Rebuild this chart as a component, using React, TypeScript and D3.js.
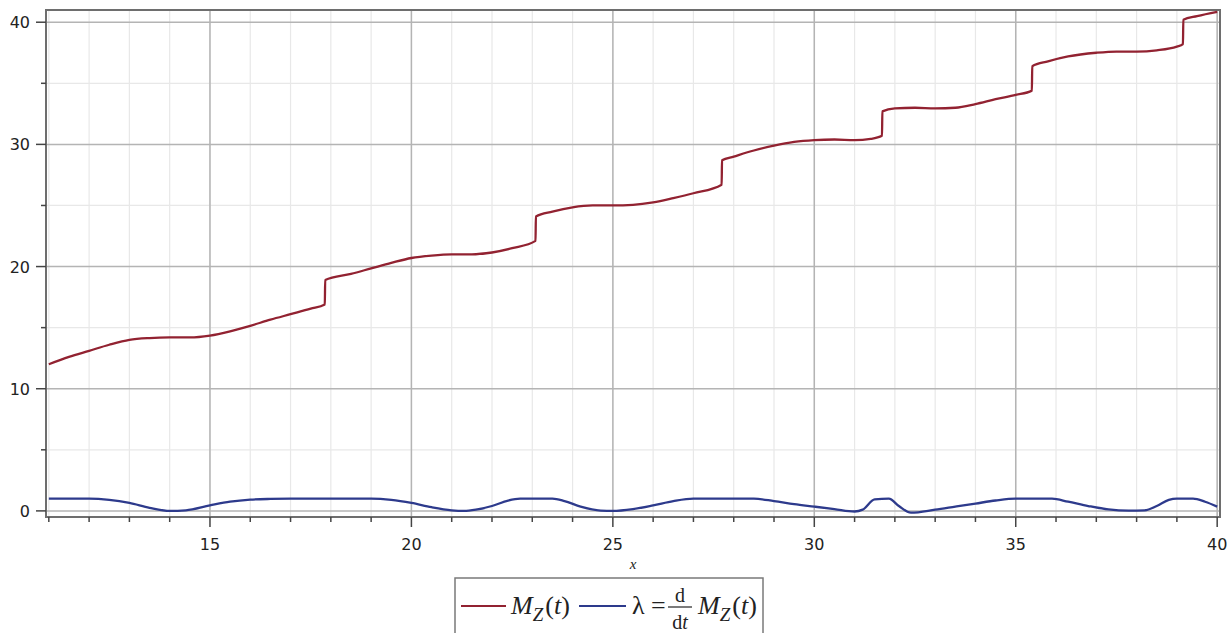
import React, { useEffect, useRef } from 'react';
import * as d3 from 'd3';

// M_Z(t) (jumps are two points a hair apart)
const mzX = [11.0, 11.5, 12.0, 12.5, 13.0, 13.5, 14.0, 14.5, 15.0, 15.5, 16.0, 16.5, 17.0, 17.5, 17.85, 17.86,
    18.5, 19.0, 19.5, 20.0, 20.5, 21.0, 21.5, 22.0, 22.5, 23.08, 23.09, 23.5, 24.0, 24.5, 25.0, 25.5, 26.0,
    26.5, 27.0, 27.7, 27.71, 28.0, 28.5, 29.0, 29.5, 30.0, 30.5, 31.0, 31.4, 31.68, 31.69, 32.0, 32.5, 33.0,
    33.5, 34.0, 34.5, 35.0, 35.4, 35.41, 35.8, 36.3, 37.0, 37.5, 38.0, 38.5, 39.0, 39.15, 39.16, 39.5, 40.0];
const mzY = [12.0, 12.6, 13.1, 13.6, 14.0, 14.15, 14.2, 14.2, 14.35, 14.7, 15.15, 15.65, 16.1, 16.55, 16.9, 18.9,
    19.4, 19.85, 20.3, 20.7, 20.9, 21.0, 21.0, 21.15, 21.5, 22.1, 24.1, 24.5, 24.85, 25.0, 25.0, 25.05, 25.25,
    25.6, 26.0, 26.7, 28.7, 29.0, 29.5, 29.9, 30.2, 30.35, 30.4, 30.35, 30.45, 30.7, 32.7, 32.95, 33.0, 32.95,
    33.0, 33.3, 33.7, 34.05, 34.4, 36.4, 36.8, 37.2, 37.5, 37.6, 37.6, 37.7, 38.0, 38.2, 40.2, 40.5, 40.85];

// lambda = d/dt M_Z(t)
const lamX = [11.0, 12.0, 12.5, 13.0, 13.5, 14.0, 14.4, 15.0, 15.5, 16.0, 16.5, 17.0, 19.0, 19.5, 20.0, 20.5,
    21.0, 21.3, 21.6, 22.0, 22.4, 22.7, 23.5, 23.8, 24.2, 24.7, 25.0, 25.5, 26.0, 26.5, 27.0, 28.5, 29.0, 29.5,
    30.0, 30.5, 31.0, 31.2, 31.5, 31.85, 32.1, 32.4, 33.0, 33.5, 34.0, 34.5, 35.0, 35.9, 36.3, 36.8, 37.3,
    37.8, 38.2, 38.5, 38.8, 39.0, 39.4, 39.7, 40.0];
const lamY = [1.0, 1.0, 0.9, 0.65, 0.25, 0.0, 0.05, 0.45, 0.75, 0.92, 0.98, 1.0, 1.0, 0.9, 0.65, 0.3,
    0.05, 0.0, 0.1, 0.4, 0.85, 1.0, 1.0, 0.8, 0.35, 0.03, 0.0, 0.15, 0.45, 0.8, 1.0, 1.0, 0.8, 0.55,
    0.35, 0.15, -0.05, 0.1, 0.95, 1.0, 0.4, -0.15, 0.1, 0.35, 0.6, 0.85, 1.0, 1.0, 0.75, 0.4, 0.12,
    0.02, 0.05, 0.4, 0.9, 1.0, 1.0, 0.75, 0.35];

const xMajor = [15, 20, 25, 30, 35, 40];
const xMinor = d3.range(11, 41);
const yMajor = [0, 10, 20, 30, 40];
const yMinor = [5, 15, 25, 35];

const W = 1229;
const H = 633;
const RED = '#922231';
const BLUE = '#2d3a8c';

const Chart = () => {
    const svgRef = useRef(null);

    useEffect(() => {
        const svg = d3.select(svgRef.current);
        svg.selectAll('*').remove();

        const left = 46, right = 1220, top = 10, bottom = 517;
        const x = d3.scaleLinear().domain([10.93, 40.07]).range([left, right]);
        const y = d3.scaleLinear().domain([-0.5, 41.0]).range([bottom, top]);

        const g = svg.append('g');

        // minor grid
        g.append('g').selectAll('line').data(xMinor).join('line')
            .attr('x1', d => x(d)).attr('x2', d => x(d))
            .attr('y1', top).attr('y2', bottom)
            .attr('stroke', '#e8e8e8').attr('stroke-width', 1.2);
        g.append('g').selectAll('line').data(yMinor).join('line')
            .attr('x1', left).attr('x2', right)
            .attr('y1', d => y(d)).attr('y2', d => y(d))
            .attr('stroke', '#e8e8e8').attr('stroke-width', 1.2);

        // major grid
        g.append('g').selectAll('line').data(xMajor).join('line')
            .attr('x1', d => x(d)).attr('x2', d => x(d))
            .attr('y1', top).attr('y2', bottom)
            .attr('stroke', '#b4b4b4').attr('stroke-width', 1.5);
        g.append('g').selectAll('line').data(yMajor).join('line')
            .attr('x1', left).attr('x2', right)
            .attr('y1', d => y(d)).attr('y2', d => y(d))
            .attr('stroke', '#b4b4b4').attr('stroke-width', 1.5);

        // frame
        g.append('rect')
            .attr('x', left).attr('y', top)
            .attr('width', right - left).attr('height', bottom - top)
            .attr('fill', 'none').attr('stroke', '#6e6e6e').attr('stroke-width', 2);

        // ticks
        g.append('g').selectAll('line').data(xMinor).join('line')
            .attr('x1', d => x(d)).attr('x2', d => x(d))
            .attr('y1', bottom).attr('y2', d => (d % 5 === 0 ? bottom + 10 : bottom + 5))
            .attr('stroke', '#444').attr('stroke-width', 1.5);
        g.append('g').selectAll('line').data(yMajor.concat(yMinor)).join('line')
            .attr('x1', d => (d % 10 === 0 ? left - 10 : left - 5)).attr('x2', left)
            .attr('y1', d => y(d)).attr('y2', d => y(d))
            .attr('stroke', '#444').attr('stroke-width', 1.5);

        const font = '"DejaVu Sans", Verdana, sans-serif';
        g.append('g').selectAll('text').data(xMajor).join('text')
            .attr('x', d => x(d)).attr('y', 550)
            .attr('text-anchor', 'middle')
            .style('font-family', font).style('font-size', '16px').style('fill', '#222')
            .text(d => d);
        g.append('g').selectAll('text').data(yMajor).join('text')
            .attr('x', 30).attr('y', d => y(d) + 6)
            .attr('text-anchor', 'end')
            .style('font-family', font).style('font-size', '16px').style('fill', '#222')
            .text(d => d);

        g.append('text')
            .attr('x', (left + right) / 2).attr('y', 569)
            .attr('text-anchor', 'middle')
            .style('font-family', '"Liberation Serif", serif').style('font-style', 'italic')
            .style('font-size', '15px').style('fill', '#222')
            .text('x');

        // curves
        const line = d3.line().curve(d3.curveMonotoneX);
        const mz = mzX.map((v, i) => [x(v), y(mzY[i])]);
        const lam = lamX.map((v, i) => [x(v), y(lamY[i])]);

        svg.append('path').attr('d', line(mz))
            .attr('fill', 'none').attr('stroke', RED).attr('stroke-width', 2.3)
            .attr('stroke-linejoin', 'round');
        svg.append('path').attr('d', line(lam))
            .attr('fill', 'none').attr('stroke', BLUE).attr('stroke-width', 2.3)
            .attr('stroke-linejoin', 'round');

        // legend
        const lg = svg.append('g');
        lg.append('rect')
            .attr('x', 455).attr('y', 578).attr('width', 308).attr('height', 70)
            .attr('fill', 'white').attr('stroke', '#7a7a7a').attr('stroke-width', 1.5);
        const ly = 606;
        lg.append('line').attr('x1', 461).attr('x2', 506).attr('y1', ly).attr('y2', ly)
            .attr('stroke', RED).attr('stroke-width', 2);
        lg.append('line').attr('x1', 579).attr('x2', 626).attr('y1', ly).attr('y2', ly)
            .attr('stroke', BLUE).attr('stroke-width', 2);

        const serif = '"Liberation Serif", "Times New Roman", serif';
        const mzLabel = (x0) => {
            const t = lg.append('text').attr('x', x0).attr('y', ly + 8)
                .style('font-family', serif).style('font-size', '26px').style('fill', '#222');
            t.append('tspan').style('font-style', 'italic').text('M');
            t.append('tspan').style('font-style', 'italic').style('font-size', '19px').attr('dy', 7).text('Z');
            t.append('tspan').attr('dy', -7).attr('dx', 2).text('(');
            t.append('tspan').style('font-style', 'italic').text('t');
            t.append('tspan').text(')');
        };
        mzLabel(511);

        lg.append('text').attr('x', 632).attr('y', ly + 8)
            .style('font-family', serif).style('font-size', '26px').style('fill', '#222')
            .text('λ =');
        lg.append('text').attr('x', 680).attr('y', ly - 4).attr('text-anchor', 'middle')
            .style('font-family', serif).style('font-size', '20px').style('fill', '#222')
            .text('d');
        lg.append('line').attr('x1', 668).attr('x2', 692).attr('y1', ly + 1).attr('y2', ly + 1)
            .attr('stroke', '#222').attr('stroke-width', 1.2);
        const dt = lg.append('text').attr('x', 680).attr('y', ly + 23).attr('text-anchor', 'middle')
            .style('font-family', serif).style('font-size', '20px').style('fill', '#222');
        dt.append('tspan').text('d');
        dt.append('tspan').style('font-style', 'italic').text('t');
        mzLabel(698);
    }, []);

    return <svg ref={svgRef} width={W} height={H}
        style={{ position: 'absolute', left: 0, top: 0, background: 'white' }}></svg>;
};

export default function App() {
    return <Chart />;
}
